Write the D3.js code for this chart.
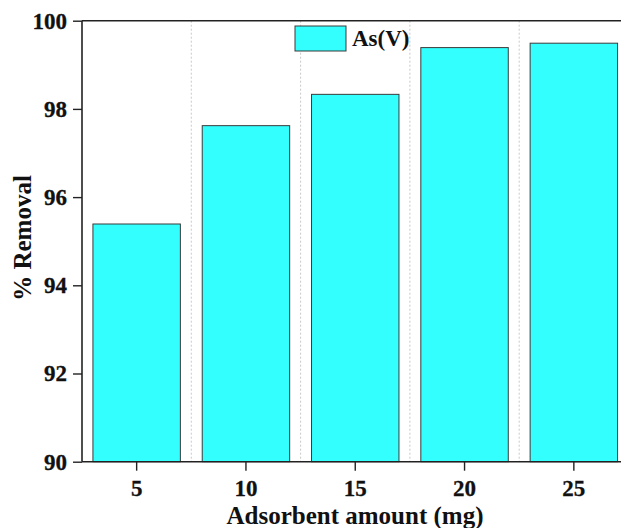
<!DOCTYPE html>
<html>
<head>
<meta charset="utf-8">
<script src="https://cdn.jsdelivr.net/npm/d3@7"></script>
<style>
  html, body { margin: 0; padding: 0; background: #fff; overflow: hidden; }
  svg { display: block; font-family: 'Liberation Serif', 'DejaVu Serif', serif; font-weight: bold; }
</style>
</head>
<body>
<div class="viz"></div>
<script>
// adsorbent amount (mg) and the matching removal of As(V) in percent
const amounts = ['5', '10', '15', '20', '25'];
const removal = [95.39, 97.62, 98.33, 99.39, 99.49];
const yTicks = [90, 92, 94, 96, 98, 100];
const seriesName = 'As(V)';

const fullWidth = 621;
const fullHeight = 528;
// the plot continues a little past the right edge of the picture
const margin = { top: 20.7, left: 82, bottom: 66.3 };
const plotRight = 628.5;
const height = fullHeight - (margin.top + margin.bottom);

const svg = d3.select('.viz')
  .append('svg')
  .attr('width', fullWidth)
  .attr('height', fullHeight);

const xScale = d3
  .scaleBand()
  .domain(amounts)
  .range([margin.left, plotRight])
  .paddingInner(0.2)
  .paddingOuter(0.1);

const yScale = d3
  .scaleLinear()
  .domain([90, 100])
  .range([margin.top + height, margin.top]);

// dotted separators between the categories
const step = xScale.step();
svg.append('g')
  .selectAll('line')
  .data(amounts.slice(1))
  .enter()
  .append('line')
  .attr('x1', d => xScale(d) - step * 0.1)
  .attr('x2', d => xScale(d) - step * 0.1)
  .attr('y1', yScale(100))
  .attr('y2', yScale(90))
  .attr('stroke', '#c8c8c8')
  .attr('stroke-width', 1)
  .attr('stroke-dasharray', '2 2');

// bars
svg.append('g')
  .selectAll('rect')
  .data(removal)
  .enter()
  .append('rect')
  .attr('x', (d, i) => xScale(amounts[i]))
  .attr('y', d => yScale(d))
  .attr('width', xScale.bandwidth())
  .attr('height', d => yScale(90) - yScale(d))
  .attr('fill', '#33ffff')
  .attr('stroke', '#3a3a3a')
  .attr('stroke-width', 1);

// axes
const xAxis = d3.axisBottom(xScale).tickSize(9).tickPadding(9);
const yAxis = d3.axisLeft(yScale).tickValues(yTicks).tickSize(9).tickPadding(6);

const gx = svg.append('g')
  .attr('transform', `translate(0 ${yScale(90)})`)
  .call(xAxis);
const gy = svg.append('g')
  .attr('transform', `translate(${margin.left} 0)`)
  .call(yAxis);

[gx, gy].forEach(g => {
  g.select('.domain').attr('stroke', '#222').attr('stroke-width', 1.6);
  g.selectAll('.tick line').attr('stroke', '#222').attr('stroke-width', 1.4);
  g.selectAll('.tick text')
    .attr('fill', '#111')
    .attr('stroke', '#111')
    .attr('stroke-width', 0.3)
    .attr('font-size', 23)
    .attr('font-family', "'Liberation Serif', serif")
    .attr('font-weight', 'bold');
});
gx.select('.domain').attr('d', `M${margin.left},0H${plotRight}`);
gy.select('.domain').attr('d', `M0,${yScale(90)}V${yScale(100)}`);

// top and right frame lines
svg.append('line')
  .attr('x1', margin.left)
  .attr('x2', plotRight)
  .attr('y1', yScale(100))
  .attr('y2', yScale(100))
  .attr('stroke', '#222')
  .attr('stroke-width', 1.6);
svg.append('line')
  .attr('x1', plotRight)
  .attr('x2', plotRight)
  .attr('y1', yScale(100))
  .attr('y2', yScale(90))
  .attr('stroke', '#222')
  .attr('stroke-width', 1.6);

// axis titles
svg.append('text')
  .attr('x', 355)
  .attr('y', 524)
  .attr('text-anchor', 'middle')
  .attr('font-size', 25)
  .attr('fill', '#111')
  .text('Adsorbent amount (mg)');

svg.append('text')
  .attr('transform', `translate(31 238) rotate(-90)`)
  .attr('text-anchor', 'middle')
  .attr('font-size', 25)
  .attr('fill', '#111')
  .text('% Removal');

// legend
const legend = svg.append('g').attr('transform', 'translate(295 26)');
legend.append('rect')
  .attr('width', 51)
  .attr('height', 25)
  .attr('fill', '#33ffff')
  .attr('stroke', '#3a3a3a')
  .attr('stroke-width', 1);
legend.append('text')
  .attr('x', 57)
  .attr('y', 20)
  .attr('font-size', 23)
  .attr('fill', '#111')
  .text(seriesName);
</script>
</body>
</html>
